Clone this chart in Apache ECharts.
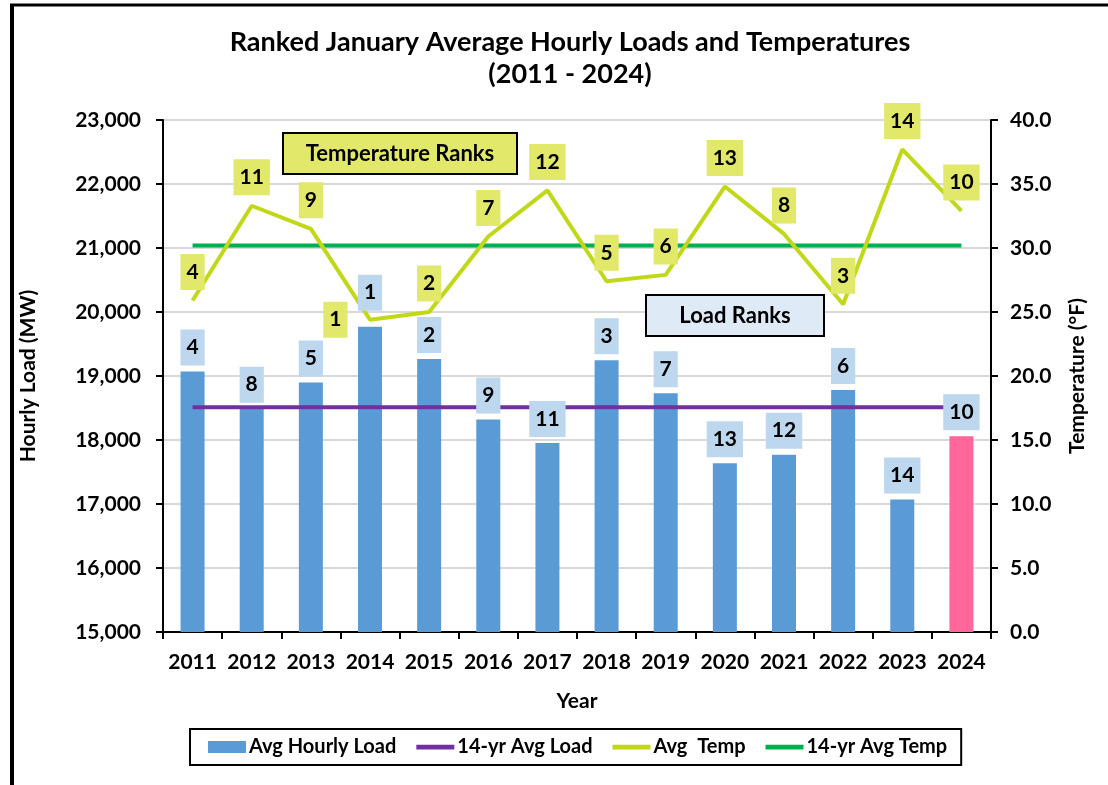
<!DOCTYPE html>
<html>
<head>
<meta charset="utf-8">
<script src="https://cdn.jsdelivr.net/npm/echarts@6/dist/echarts.min.js"></script>
<style>
  html, body { margin: 0; padding: 0; background: #fff; }
  #chart { width: 1108px; height: 785px; }
</style>
</head>
<body>
<div id="chart"></div>
<script>
var years = ['2011', '2012', '2013', '2014', '2015', '2016', '2017', '2018', '2019', '2020', '2021', '2022', '2023', '2024'];
var avgLoad = [19070, 18490, 18900, 19770, 19265, 18320, 17955, 19245, 18730, 17635, 17770, 18780, 17070, 18060];
var loadRank = [4, 8, 5, 1, 2, 9, 11, 3, 7, 13, 12, 6, 14, 10];
var avgTemp = [25.9, 33.3, 31.5, 24.4, 25.0, 30.9, 34.5, 27.4, 27.9, 34.8, 31.1, 25.6, 37.7, 32.9];
var tempRank = [4, 11, 9, 1, 2, 7, 12, 5, 6, 13, 8, 3, 14, 10];
var load14yr = 18510;
var temp14yr = 30.2;

var font = 'Lato, "Open Sans", sans-serif';
var chart = echarts.init(document.getElementById('chart'));

// bars: last year in pink
var barData = avgLoad.map(function (v, i) {
    var item = { value: v };
    if (i === years.length - 1) item.itemStyle = { color: '#FF6699' };
    return item;
});
// load rank labels sit on a see-through copy of the bars so they draw over the avg lines
var loadLabelData = avgLoad.map(function (v, i) {
    var item = { value: v, rank: loadRank[i] };
    if (loadRank[i] === 1) item.label = { offset: [0, -10] };
    return item;
});
var tempData = avgTemp.map(function (v, i) {
    var item = { value: v, rank: tempRank[i] };
    if (tempRank[i] === 1) item.label = { position: 'left', distance: 22 };
    return item;
});

var rankLabel = {
    show: true,
    fontFamily: font,
    fontWeight: 'bold',
    fontSize: 21,
    color: '#000',
    lineHeight: 22,
    padding: [7, 6, 7, 6]
};
var axisFont = { fontFamily: font, fontWeight: 'bold', fontSize: 21, color: '#000' };
var lineIcon = 'path://M0,0H40V5H0Z';

chart.setOption({
    backgroundColor: '#fff',
    animation: false,
    title: {
        text: 'Ranked January Average Hourly Loads and Temperatures\n(2011 - 2024)',
        left: 565,
        textAlign: 'center',
        top: 21,
        textStyle: { fontFamily: font, fontWeight: 'bold', fontSize: 27, lineHeight: 32, color: '#000' }
    },
    grid: { left: 163, right: 117, top: 120, bottom: 153 },
    legend: {
        data: [
            { name: 'Avg Hourly Load', icon: 'rect' },
            { name: '14-yr Avg Load', icon: lineIcon },
            { name: 'Avg  Temp', icon: lineIcon, itemStyle: { color: '#C0D818' } },
            { name: '14-yr Avg Temp', icon: lineIcon }
        ],
        left: 190,
        top: 729,
        borderColor: '#000',
        borderWidth: 2,
        padding: [8, 14, 8, 18],
        itemGap: 20,
        itemWidth: 38,
        itemHeight: 12,
        textStyle: { fontFamily: font, fontWeight: 'bold', fontSize: 20, color: '#000', padding: [0, 0, 0, -2] }
    },
    xAxis: {
        type: 'category',
        data: years,
        name: 'Year',
        nameLocation: 'middle',
        nameGap: 59,
        nameTextStyle: axisFont,
        axisLine: { lineStyle: { color: '#000', width: 2 } },
        axisTick: { show: true, interval: 0, length: 7, lineStyle: { color: '#000', width: 2 } },
        axisLabel: Object.assign({ margin: 20, interval: 0 }, axisFont)
    },
    yAxis: [{
        type: 'value',
        min: 15000,
        max: 23000,
        interval: 1000,
        name: 'Hourly Load (MW)',
        nameLocation: 'middle',
        nameRotate: 90,
        nameGap: 124,
        nameTextStyle: axisFont,
        axisLine: { show: true, lineStyle: { color: '#000', width: 2 } },
        axisTick: { show: true, length: 7, lineStyle: { color: '#000', width: 2 } },
        axisLabel: Object.assign({
            margin: 22,
            formatter: function (v) { return v.toLocaleString('en-US'); }
        }, axisFont),
        splitLine: { lineStyle: { color: '#D9D9D9', width: 2 } }
    }, {
        type: 'value',
        min: 0,
        max: 40,
        interval: 5,
        name: 'Temperature (°F)',
        nameLocation: 'middle',
        nameRotate: 90,
        nameGap: 76,
        nameTextStyle: axisFont,
        axisLine: { show: true, lineStyle: { color: '#000', width: 2 } },
        axisTick: { show: true, length: 7, lineStyle: { color: '#000', width: 2 } },
        axisLabel: Object.assign({
            margin: 19,
            formatter: function (v) { return v.toFixed(1); }
        }, axisFont),
        splitLine: { show: false }
    }],
    series: [{
        name: 'Avg Hourly Load',
        type: 'bar',
        data: barData,
        barWidth: 24,
        z: 2,
        itemStyle: { color: '#5B9BD5' }
    }, {
        name: 'loadRanks',
        type: 'bar',
        data: loadLabelData,
        barWidth: 24,
        barGap: '-100%',
        z: 10,
        silent: true,
        itemStyle: { color: 'rgba(0,0,0,0)' },
        label: Object.assign({}, rankLabel, {
            position: 'top',
            distance: 6,
            backgroundColor: '#BDD7EE',
            formatter: function (p) { return p.data.rank; }
        })
    }, {
        name: '14-yr Avg Load',
        type: 'line',
        data: years.map(function () { return load14yr; }),
        symbol: 'none',
        z: 3,
        lineStyle: { color: '#7030A0', width: 4 },
        itemStyle: { color: '#7030A0' }
    }, {
        name: '14-yr Avg Temp',
        type: 'line',
        yAxisIndex: 1,
        data: years.map(function () { return temp14yr; }),
        symbol: 'none',
        z: 3,
        lineStyle: { color: '#00B050', width: 4 },
        itemStyle: { color: '#00B050' }
    }, {
        name: 'Avg  Temp',
        type: 'line',
        yAxisIndex: 1,
        data: tempData,
        symbol: 'circle',
        symbolSize: 1,
        showSymbol: true,
        z: 4,
        lineStyle: { color: '#C0D818', width: 4 },
        itemStyle: { color: 'rgba(0,0,0,0)' },
        label: Object.assign({}, rankLabel, {
            position: 'top',
            distance: 10,
            backgroundColor: '#E1E86A',
            formatter: function (p) { return p.data.rank; }
        })
    }],
    graphic: [
        // frame round the picture
        { type: 'line', shape: { x1: 10, y1: 5, x2: 1108, y2: 5 }, style: { stroke: '#000', lineWidth: 3 } },
        { type: 'line', shape: { x1: 12, y1: 4, x2: 12, y2: 785 }, style: { stroke: '#000', lineWidth: 4 } },
        { type: 'rect', z: 100, shape: { x: 283, y: 133, width: 234, height: 41 }, style: { fill: '#E1E86A', stroke: '#000', lineWidth: 2 } },
        { type: 'text', z: 101, x: 400, y: 154, style: { text: 'Temperature Ranks', align: 'center', verticalAlign: 'middle', fontFamily: font, fontWeight: 'bold', fontSize: 22, fill: '#000' } },
        { type: 'rect', z: 100, shape: { x: 646, y: 295, width: 178, height: 41 }, style: { fill: '#DEEBF7', stroke: '#000', lineWidth: 2 } },
        { type: 'text', z: 101, x: 735, y: 316, style: { text: 'Load Ranks', align: 'center', verticalAlign: 'middle', fontFamily: font, fontWeight: 'bold', fontSize: 22, fill: '#000' } }
    ]
});
</script>
</body>
</html>
